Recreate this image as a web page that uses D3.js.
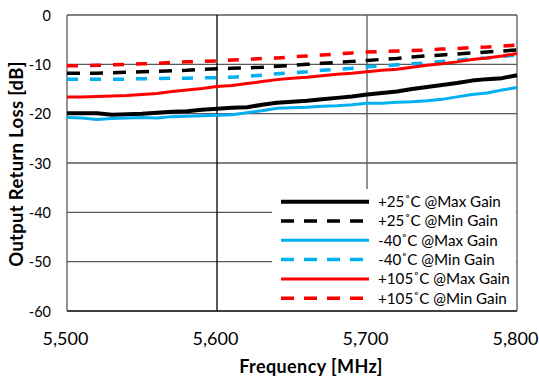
<!DOCTYPE html>
<html><head><meta charset="utf-8">
<script src="https://cdn.jsdelivr.net/npm/d3@7"></script>
<style>body{margin:0;background:#fff}svg{display:block}text{font-family:Lato,"Open Sans",sans-serif;fill:#000}</style>
</head><body><svg id="c" width="539" height="377"></svg>
<script>
const freqs = [5500,5510,5520,5530,5540,5550,5560,5570,5580,5590,5600,5610,5620,5630,5640,5650,5660,5670,5680,5690,5700,5710,5720,5730,5740,5750,5760,5770,5780,5790,5800];
const p25Max = [-19.9,-19.9,-19.9,-20.2,-20.1,-20.0,-19.8,-19.6,-19.5,-19.2,-19.0,-18.8,-18.7,-18.2,-17.8,-17.6,-17.4,-17.1,-16.8,-16.5,-16.1,-15.8,-15.5,-15.0,-14.6,-14.2,-13.8,-13.3,-13.0,-12.8,-12.2];
const p25Min = [-11.8,-11.8,-11.8,-11.7,-11.6,-11.5,-11.4,-11.3,-11.2,-11.0,-10.9,-10.8,-10.7,-10.6,-10.4,-10.2,-10.0,-9.8,-9.6,-9.4,-9.2,-9.0,-8.8,-8.5,-8.3,-8.1,-7.9,-7.7,-7.5,-7.3,-7.1];
const m40Max = [-20.8,-20.9,-21.2,-21.0,-20.9,-20.8,-20.9,-20.6,-20.5,-20.4,-20.3,-20.2,-19.8,-19.4,-18.9,-18.8,-18.7,-18.5,-18.4,-18.2,-17.9,-17.9,-17.7,-17.6,-17.4,-17.1,-16.6,-16.1,-15.8,-15.2,-14.7];
const m40Min = [-13.0,-13.0,-13.0,-13.0,-13.0,-12.9,-12.9,-12.8,-12.8,-12.7,-12.7,-12.6,-12.4,-12.2,-11.9,-11.7,-11.5,-11.2,-11.0,-10.8,-10.5,-10.3,-10.1,-9.9,-9.7,-9.4,-9.2,-8.9,-8.7,-8.4,-8.1];
const p105Max = [-16.6,-16.6,-16.5,-16.4,-16.3,-16.1,-15.9,-15.5,-15.2,-14.9,-14.5,-14.3,-13.9,-13.5,-13.1,-12.8,-12.6,-12.3,-12.0,-11.8,-11.5,-11.2,-11.0,-10.6,-10.2,-9.9,-9.5,-9.0,-8.7,-8.3,-7.8];
const p105Min = [-10.3,-10.3,-10.2,-10.1,-10.0,-9.9,-9.8,-9.6,-9.5,-9.4,-9.3,-9.1,-9.0,-8.8,-8.7,-8.5,-8.3,-8.1,-7.9,-7.7,-7.5,-7.4,-7.3,-7.2,-7.1,-6.9,-6.8,-6.6,-6.5,-6.3,-6.1];
const seriesNames = ["+25˚C @Max Gain","+25˚C @Min Gain","-40˚C @Max Gain","-40˚C @Min Gain","+105˚C @Max Gain","+105˚C @Min Gain"];
const xTicks = [5500,5600,5700,5800];
const yTicks = [0,-10,-20,-30,-40,-50,-60];

const series = [
  {name:seriesNames[0], v:p25Max, c:"#000000", w:4, d:null},
  {name:seriesNames[1], v:p25Min, c:"#000000", w:3.5, d:"13,10"},
  {name:seriesNames[2], v:m40Max, c:"#00B0F0", w:3, d:null},
  {name:seriesNames[3], v:m40Min, c:"#00B0F0", w:3.5, d:"11,12"},
  {name:seriesNames[4], v:p105Max, c:"#FF0000", w:3, d:null},
  {name:seriesNames[5], v:p105Min, c:"#FF0000", w:3.5, d:"11,12"}
];

const svg = d3.select("#c");
const L=67, R=517, T=15, B=311;
const x = d3.scaleLinear().domain([5500,5800]).range([L,R]);
const y = d3.scaleLinear().domain([-60,0]).range([B,T]);
const fmt = d3.format(",");

// grid
svg.append("g").selectAll("line").data(yTicks).join("line")
  .attr("x1",L).attr("x2",R).attr("y1",d=>y(d)).attr("y2",d=>y(d))
  .attr("stroke",d=>d===-60?"#000":"#595959").attr("stroke-width",1.3);
svg.append("g").selectAll("line").data(xTicks).join("line")
  .attr("y1",T).attr("y2",B).attr("x1",d=>x(d)).attr("x2",d=>x(d))
  .attr("stroke",d=>d===5600?"#000":"#595959").attr("stroke-width",1.3);

// lines
const line = d3.line().x((d,i)=>x(freqs[i])).y(d=>y(d));
svg.append("g").selectAll("path").data(series).join("path")
  .attr("d",s=>line(s.v)).attr("fill","none").attr("stroke",s=>s.c)
  .attr("stroke-width",s=>s.w).attr("stroke-dasharray",s=>s.d)
  .attr("stroke-linejoin","round");

// axes labels
const xa = svg.append("g").attr("transform",`translate(-2,345)`)
  .call(d3.axisBottom(x).tickValues(xTicks).tickFormat(fmt).tickSize(0));
xa.select(".domain").remove();
xa.selectAll("text").attr("font-size",18).attr("font-family","Lato").attr("y",0).attr("dy",0).attr("fill","#000");
const ya = svg.append("g").attr("transform",`translate(${L-16},0)`)
  .call(d3.axisLeft(y).tickValues(yTicks).tickSize(0).tickFormat(d=>String(d)));
ya.select(".domain").remove();
ya.selectAll("text").attr("font-size",14.5).attr("font-family","Lato").attr("x",0).attr("dy","0.35em").attr("fill","#000");

svg.append("text").attr("x",311).attr("y",373).attr("text-anchor","middle")
  .attr("font-size",18).attr("letter-spacing",0.4).attr("font-weight","bold").text("Frequency [MHz]");
svg.append("text").attr("transform",`translate(23,${(T+B)/2+1}) rotate(-90)`).attr("text-anchor","middle")
  .attr("font-size",18.5).attr("letter-spacing",0.3).attr("font-weight","bold").text("Output Return Loss [dB]");

// legend
const lg = svg.append("g");
lg.append("rect").attr("x",272).attr("y",189).attr("width",R-272-1).attr("height",B-189-1).attr("fill","#fff");
const rows = lg.selectAll("g").data(series).join("g")
  .attr("transform",(d,i)=>`translate(0,${201.7+i*19.3})`);
rows.append("line").attr("x1",281).attr("x2",369).attr("stroke",s=>s.c)
  .attr("stroke-width",s=>s.w).attr("stroke-dasharray",s=>s.d?"13,10":null);
rows.append("text").attr("x",378).attr("dy","0.35em").attr("font-size",15.2).text(s=>s.name);
</script></body></html>
